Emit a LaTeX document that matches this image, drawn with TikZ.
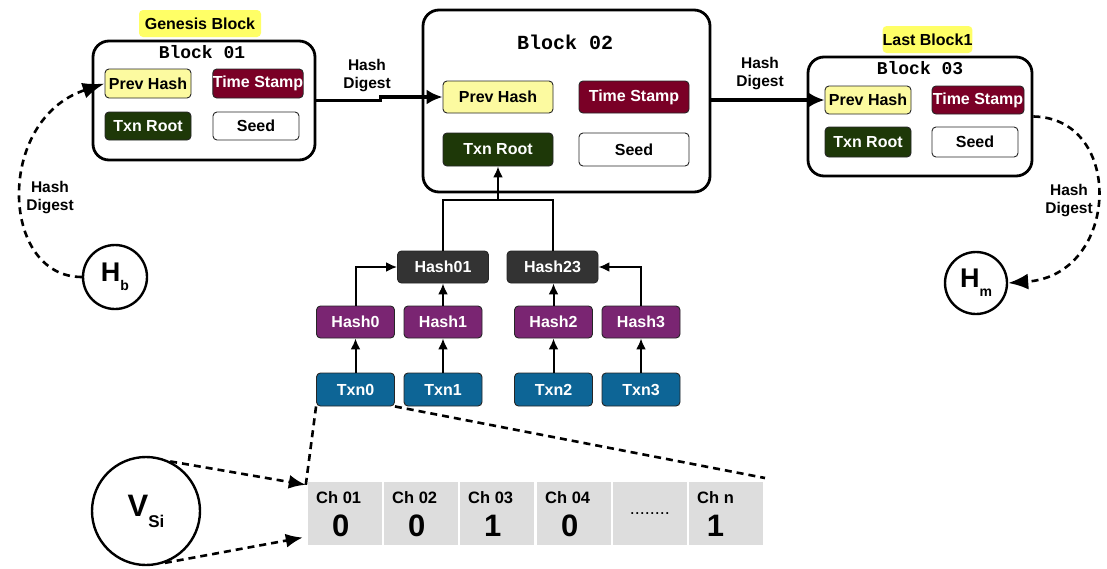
\documentclass[tikz,border=0pt]{standalone}
\usepackage{fontspec}
\setmainfont{Liberation Sans}
\setmonofont{Liberation Mono}
\usetikzlibrary{arrows.meta,calc}
\definecolor{phyellow}{RGB}{252,250,160}
\definecolor{tagyellow}{RGB}{255,255,102}
\definecolor{tsred}{RGB}{122,0,38}
\definecolor{trgreen}{RGB}{30,56,8}
\definecolor{hdark}{RGB}{51,51,51}
\definecolor{hpurple}{RGB}{122,37,114}
\definecolor{txblue}{RGB}{13,101,150}
\definecolor{cellgray}{RGB}{221,221,221}
\newcommand\myfs[1]{\fontsize{#1}{#1}\selectfont}
\begin{document}
\begin{tikzpicture}[x=1pt,y=-1pt,
  blk/.style={draw, line width=2.8pt, rounded corners=16pt, inner sep=0},
  fld/.style={draw=black!85, line width=0.9pt, rounded corners=4pt, inner sep=0, font=\myfs{16}\bfseries},
  ph/.style={fld, fill=phyellow},
  ts/.style={fld, fill=tsred, text=white},
  tr/.style={fld, fill=trgreen, text=white},
  sd/.style={fld, fill=white},
  hd/.style={fld, fill=hdark, text=white, minimum width=91pt, minimum height=32pt},
  hp/.style={fld, fill=hpurple, text=white, minimum width=78pt, minimum height=32pt},
  tx/.style={fld, fill=txblue, text=white, minimum width=78pt, minimum height=33pt},
  tag/.style={fill=tagyellow, rounded corners=4pt, inner sep=0, font=\myfs{16}\bfseries},
  ttl/.style={font=\ttfamily\bfseries\myfs{18}},
  lbl/.style={font=\bfseries\fontsize{15.5}{18}\selectfont, align=center},
  thickarr/.style={line width=3.6pt, -{Latex[length=16pt,width=15pt]}},
  tarr/.style={line width=2pt, -{Latex[length=11pt,width=10pt]}},
  tline/.style={line width=2pt},
  dsh/.style={line width=2.6pt, dash pattern=on 7pt off 5pt},
  circ/.style={circle, draw, line width=2.4pt, inner sep=0, font=\bfseries},
  cell/.style={fill=cellgray, inner sep=0, minimum width=74pt, minimum height=63pt},
  chl/.style={font=\bfseries\myfs{16.5}, inner sep=0},
  dig/.style={font=\bfseries\myfs{31}, inner sep=0}
]
\useasboundingbox[fill=white] (0,0) rectangle (1107,568);

% ---- Block 01
\node[tag, minimum width=122pt, minimum height=27pt] (gen) at (200,23.5) {Genesis Block};
\node[blk, minimum width=222pt, minimum height=119pt] (b1) at (204,100.5) {};
\node[ttl] (b1title) at (202,52) {Block 01};
\node[ph, minimum width=86pt, minimum height=29pt] (b1p) at (148,83.5) {Prev Hash};
\node[ts, minimum width=90pt, minimum height=29pt] (b1t) at (258,83.5) {Time Stamp};
\node[tr, minimum width=86pt, minimum height=28pt] (b1r) at (148,126) {Txn Root};
\node[sd, minimum width=86pt, minimum height=28pt] (b1s) at (256,126) {Seed};

% ---- Block 02
\node[blk, minimum width=287pt, minimum height=182pt] (b2) at (566.5,101) {};
\node[ttl, font=\ttfamily\bfseries\myfs{20}] (b2title) at (565,42) {Block 02};
\node[ph, minimum width=110pt, minimum height=32pt] (b2p) at (498,97) {Prev Hash};
\node[ts, minimum width=110pt, minimum height=32pt] (b2t) at (634,97) {Time Stamp};
\node[tr, minimum width=110pt, minimum height=33pt] (b2r) at (498,149.5) {Txn Root};
\node[sd, minimum width=110pt, minimum height=33pt] (b2s) at (634,149.5) {Seed};

% ---- Block 03
\node[tag, minimum width=85pt, minimum height=27pt] (last) at (927.5,39.5) {Last Block1};
\node[blk, minimum width=224pt, minimum height=119pt] (b3) at (920,116.5) {};
\node[ttl] (b3title) at (920,68) {Block 03};
\node[ph, minimum width=86pt, minimum height=28pt] (b3p) at (868,100) {Prev Hash};
\node[ts, minimum width=92pt, minimum height=28pt] (b3t) at (978,100) {Time Stamp};
\node[tr, minimum width=86pt, minimum height=30pt] (b3r) at (868,142) {Txn Root};
\node[sd, minimum width=86pt, minimum height=30pt] (b3s) at (975,142) {Seed};

% ---- chain arrows
\draw[thickarr] (b1.east) -- ++(64,0) |- (b2p.west);
\node[lbl] (hd1) at (367,76) {Hash\\Digest};
\draw[thickarr] (b2.east |- b3p.west) -- (b3p.west);
\node[lbl] (hd2) at (760,74) {Hash\\Digest};

% ---- H circles
\node[circ, minimum size=64pt] (Hb) at (115,277) {\myfs{27}H\raisebox{-9pt}{\myfs{14}b}};
\node[circ, minimum size=62pt] (Hm) at (976,283) {\myfs{27}H\raisebox{-9pt}{\myfs{14}m}};
\draw[dsh, -{Latex[length=22pt,width=16pt]}] (Hb.west) .. controls (0,277) and (-5,120) .. (b1p.west);
\node[lbl] (hd3) at (50,198) {Hash\\Digest};
\draw[dsh, -{Latex[length=20pt,width=16pt]}] (b3.east) .. controls (1125,118) and (1120,275) .. (Hm.east);
\node[lbl] (hd4) at (1069,201) {Hash\\Digest};

% ---- Merkle tree
\node[hd] (h01) at (443,267) {Hash01};
\node[hd] (h23) at (552.5,267) {Hash23};
\node[hp] (h0) at (355.5,322) {Hash0};
\node[hp] (h1) at (443,322) {Hash1};
\node[hp] (h2) at (553.5,322) {Hash2};
\node[hp] (h3) at (641,322) {Hash3};
\node[tx] (t0) at (355.5,389.5) {Txn0};
\node[tx] (t1) at (443,389.5) {Txn1};
\node[tx] (t2) at (553.5,389.5) {Txn2};
\node[tx] (t3) at (641,389.5) {Txn3};
\foreach \i in {0,1,2,3} \draw[tarr] (t\i.north) -- (h\i.south);
\draw[tarr] (h0.north) |- (h01.west);
\draw[tarr] (h1.north) -- (h01.south);
\draw[tarr] (h2.north) -- (h2.north |- h23.south);
\draw[tarr] (h3.north) |- (h23.east);
\coordinate (j) at (498,200);
\draw[tline] (h01.north) |- (j) -| (h23.north);
\draw[tarr] (j) -- (b2r.south);

% ---- bit array
\node[cell] (c1) at (345,513.5) {};
\node[cell] (c2) at (421.2,513.5) {};
\node[cell] (c3) at (497.4,513.5) {};
\node[cell] (c4) at (573.6,513.5) {};
\node[cell] (c5) at (649.8,513.5) {};
\node[cell] (c6) at (726,513.5) {};
\node[chl, anchor=base west] (l1) at (316,503) {Ch 01};
\node[chl, anchor=base west] (l2) at (392,503) {Ch 02};
\node[chl, anchor=base west] (l3) at (468,503) {Ch 03};
\node[chl, anchor=base west] (l4) at (545,503) {Ch 04};
\node[chl, anchor=base west] (l6) at (697,503) {Ch n};
\node[dig, anchor=base] (d1) at ($(l1.center |- 0,536)+(2,0)$) {0};
\node[dig, anchor=base] (d2) at ($(l2.center |- 0,536)+(2,0)$) {0};
\node[dig, anchor=base] (d3) at ($(l3.center |- 0,536)+(2,0)$) {1};
\node[dig, anchor=base] (d4) at ($(l4.center |- 0,536)+(2,0)$) {0};
\node[dig, anchor=base] (d6) at ($(l6.center |- 0,536)+(0,0)$) {1};
\node[font=\myfs{18}] (dots) at (c5.center) {........};

% ---- V circle and dashed links
\node[circ, minimum size=108pt] (V) at (146,511) {\myfs{31}V\raisebox{-11pt}{\myfs{17}Si}};
\coordinate (tipA) at ($(c1.north west)+(-2,3)$);
\coordinate (tipB) at ($(c1.west)+(-5,24)$);
\coordinate (endR) at (765,478);
\draw[dsh, -{Latex[length=17pt,width=14pt]}] (V.64) -- (tipA);
\draw[dsh, -{Latex[length=17pt,width=14pt]}] (V.-70) -- (tipB);
\draw[dsh] (t0.south west) -- (tipA);
\draw[dsh] (t0.south east) -- (endR);
\end{tikzpicture}
\end{document}
